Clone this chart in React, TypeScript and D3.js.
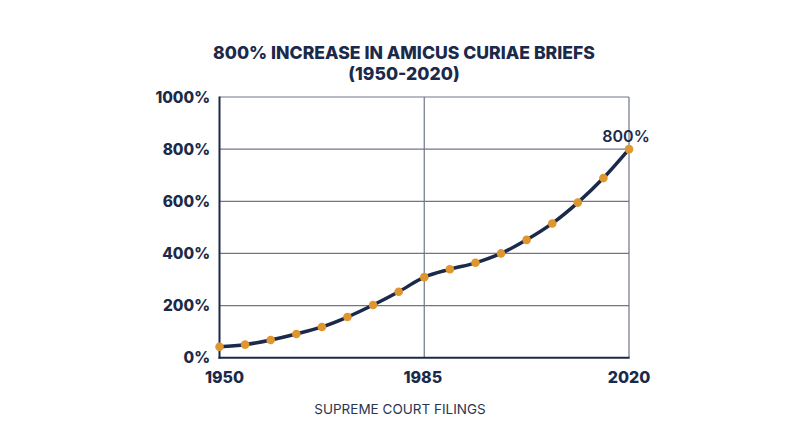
import React from "react";
import * as d3 from "d3";

const title1 = "800% INCREASE IN AMICUS CURIAE BRIEFS";
const title2 = "(1950-2020)";
const xLabel = "SUPREME COURT FILINGS";
const startYear = 1950;
const endYear = 2020;
const xTickYears = [1950, 1985, 2020];
const yTicks = [0, 200, 400, 600, 800, 1000];
const values = [42, 50, 68, 91, 118, 156, 202, 253, 309, 339, 364, 400, 452, 515, 595, 689, 800];
const endLabel = "800%";

const NAVY = "#1b2a4a";
const GRID = "#6f7689";
const ORANGE = "#e0962f";
const FONT = "Inter, 'Noto Sans', sans-serif";

export default function App() {
  const W = 800, H = 447;
  const left = 219.5, right = 629, top = 97, bottom = 357.7;
  const n = values.length;
  const years = values.map((_, i) => startYear + (i * (endYear - startYear)) / (n - 1));
  const x = d3.scaleLinear().domain([startYear, endYear]).range([left, right]);
  const y = d3.scaleLinear().domain([0, 1000]).range([bottom, top]);
  const line = d3
    .line<number>()
    .x((_, i) => x(years[i]))
    .y((d) => y(d))
    .curve(d3.curveMonotoneX);
  const lastX = x(years[n - 1]);
  const lastY = y(values[n - 1]);
  return (
    <svg
      width={W}
      height={H}
      style={{ position: "fixed", left: 0, top: 0, background: "#fff" }}
      fontFamily={FONT}
    >
      <rect x={0} y={0} width={W} height={H} fill="#fff" />
      <text x={404} y={59} textAnchor="middle" fontSize={17.6} fontWeight={800} fill={NAVY}>
        {title1}
      </text>
      <text x={404} y={79.5} textAnchor="middle" fontSize={17.6} fontWeight={800} fill={NAVY}>
        {title2}
      </text>
      {yTicks.filter((t) => t > 0).map((t) => (
        <line key={t} x1={left} x2={right} y1={y(t)} y2={y(t)} stroke={GRID} strokeWidth={1.2} />
      ))}
      {xTickYears.filter((t) => t !== startYear).map((t) => (
        <line key={t} x1={x(t)} x2={x(t)} y1={top} y2={bottom} stroke={GRID} strokeWidth={1.2} />
      ))}
      <line x1={left} x2={left} y1={top - 0.6} y2={bottom + 1} stroke={NAVY} strokeWidth={2} />
      <line x1={left - 1} x2={right + 0.6} y1={bottom} y2={bottom} stroke={NAVY} strokeWidth={2} />
      {yTicks.map((t) => (
        <text key={t} x={210} y={y(t) + 5.5} textAnchor="end" fontSize={15.4} fontWeight={800} fill={NAVY}>
          {t}%
        </text>
      ))}
      {xTickYears.map((t, i) => (
        <text
          key={t}
          x={x(t) + (i === 0 ? 5 : i === 1 ? -1.5 : 0)}
          y={383}
          textAnchor="middle"
          fontSize={16}
          fontWeight={800}
          fill={NAVY}
        >
          {t}
        </text>
      ))}
      <text x={400} y={413.5} textAnchor="middle" fontSize={13.5} fill="#2a3550">
        {xLabel}
      </text>
      <path d={line(values) || ""} fill="none" stroke={NAVY} strokeWidth={3.5} strokeLinejoin="round" />
      {values.map((v, i) => (
        <circle key={i} cx={x(years[i])} cy={y(v)} r={4.3} fill={ORANGE} />
      ))}
      <text x={lastX - 3} y={lastY - 7.5} textAnchor="middle" fontSize={16} fontWeight={600} fill={NAVY}>
        {endLabel}
      </text>
    </svg>
  );
}
